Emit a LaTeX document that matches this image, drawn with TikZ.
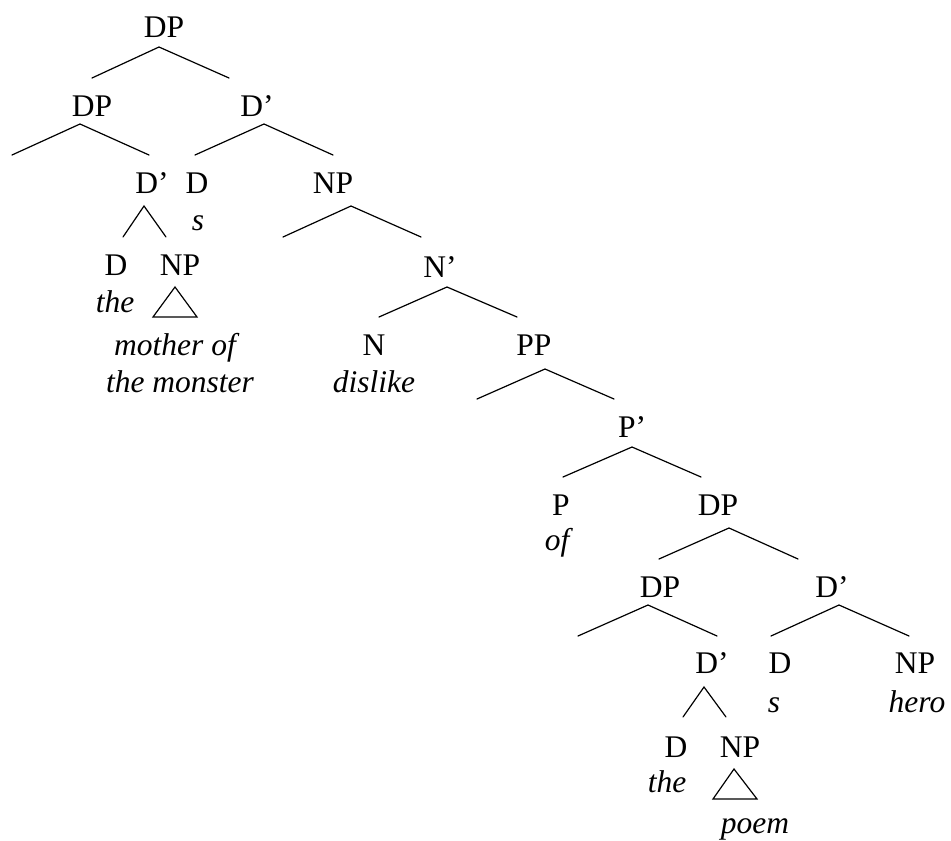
\documentclass[tikz,border=0pt]{standalone}
\usepackage{fontspec}
\setmainfont{Liberation Serif}
\begin{document}
\begin{tikzpicture}[x=1pt,y=-1pt,
  lab/.style={anchor=base,inner sep=0pt,font=\fontsize{31.5}{38}\selectfont},
  wrd/.style={lab,font=\fontsize{31.5}{38}\selectfont\itshape},
  br/.style={line width=1.2pt,line cap=round}]
\useasboundingbox (0,0) rectangle (951,841);
% labels
\node[lab] (dp0) at (164,37) {DP};
\node[lab] (dp1) at (92,116) {DP};
\node[lab] (db1) at (257,116) {D’};
\node[lab] (db2) at (152,193) {D’};
\node[lab] (d1) at (197,193) {D};
\node[wrd] (s1) at (198,230) {s};
\node[lab] (np1) at (333,193) {NP};
\node[lab] (d2) at (116,275) {D};
\node[lab] (np2) at (180,275) {NP};
\node[wrd] (the1) at (115,312) {the};
\node[wrd] (mo) at (175,355) {mother of};
\node[wrd] (tm) at (180,392) {the monster};
\node[lab] (nb) at (440,277) {N’};
\node[lab] (n) at (374,355) {N};
\node[wrd] (dis) at (374,392) {dislike};
\node[lab] (pp) at (534,355) {PP};
\node[lab] (pb) at (632,437) {P’};
\node[lab] (p) at (561,515) {P};
\node[wrd] (of) at (557,550) {of};
\node[lab] (dp3) at (718,515) {DP};
\node[lab] (dp4) at (660,597) {DP};
\node[lab] (db3) at (832,597) {D’};
\node[lab] (db4) at (712,673) {D’};
\node[lab] (d3) at (780,673) {D};
\node[wrd] (s2) at (774,712) {s};
\node[lab] (np3) at (915,673) {NP};
\node[wrd] (hero) at (917,712) {hero};
\node[lab] (d4) at (676,757) {D};
\node[wrd] (the2) at (667,792) {the};
\node[lab] (np4) at (740,757) {NP};
\node[wrd] (poem) at (755,833) {poem};
% branch points
\coordinate (a1) at (159,47); \coordinate (a1l) at (92,78); \coordinate (a1r) at (229,78);
\coordinate (a2) at (80,124); \coordinate (a2l) at (12,155); \coordinate (a2r) at (149,155);
\coordinate (a3) at (264,124); \coordinate (a3l) at (195,155); \coordinate (a3r) at (333,155);
\coordinate (a4) at (144,206); \coordinate (a4l) at (123,237); \coordinate (a4r) at (166,237);
\coordinate (t1) at (175,287); \coordinate (t1l) at (153,317); \coordinate (t1r) at (197,317);
\coordinate (a6) at (351,206); \coordinate (a6l) at (283,237); \coordinate (a6r) at (421,237);
\coordinate (a7) at (447,287); \coordinate (a7l) at (379,317); \coordinate (a7r) at (517,317);
\coordinate (a8) at (545,369); \coordinate (a8l) at (477,399); \coordinate (a8r) at (614,399);
\coordinate (a9) at (632,447); \coordinate (a9l) at (563,477); \coordinate (a9r) at (701,477);
\coordinate (a10) at (729,528); \coordinate (a10l) at (659,559); \coordinate (a10r) at (798,559);
\coordinate (a11) at (648,605); \coordinate (a11l) at (578,636); \coordinate (a11r) at (717,636);
\coordinate (a12) at (839,605); \coordinate (a12l) at (771,636); \coordinate (a12r) at (909,636);
\coordinate (a13) at (704,687); \coordinate (a13l) at (683,717); \coordinate (a13r) at (726,717);
\coordinate (t2) at (734,769); \coordinate (t2l) at (713,799); \coordinate (t2r) at (757,799);
% branches
\foreach \c in {a1,a2,a3,a4,a6,a7,a8,a9,a10,a11,a12,a13}{
  \draw[br] (\c l) -- (\c) -- (\c r);
}
\draw[br,line join=miter] (t1) -- (t1l) -- (t1r) -- cycle;
\draw[br,line join=miter] (t2) -- (t2l) -- (t2r) -- cycle;
\end{tikzpicture}
\end{document}
